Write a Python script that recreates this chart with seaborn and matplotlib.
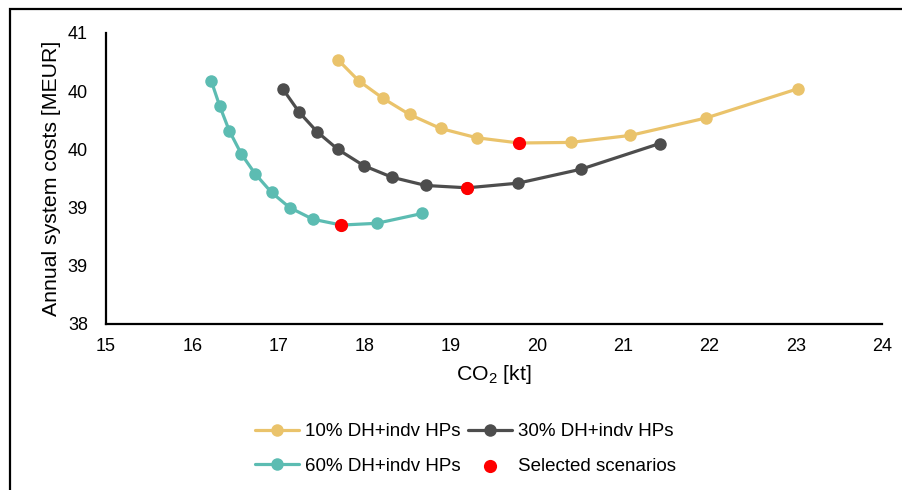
import numpy as np
import pandas as pd
import matplotlib
matplotlib.use('Agg')
import matplotlib.pyplot as plt
import seaborn as sns
from matplotlib.patches import Rectangle

# CO2 [kt] and annual system costs [MEUR] for each district heating share
co2_10 = [17.69, 17.93, 18.21, 18.52, 18.88, 19.30, 19.79, 20.39, 21.08, 21.96, 23.02]
cost_10 = [40.27, 40.09, 39.94, 39.80, 39.68, 39.60, 39.555, 39.56, 39.62, 39.77, 40.02]

co2_30 = [17.05, 17.24, 17.45, 17.69, 17.99, 18.32, 18.71, 19.19, 19.78, 20.51, 21.42]
cost_30 = [40.02, 39.82, 39.65, 39.50, 39.36, 39.26, 39.19, 39.17, 39.21, 39.33, 39.55]

co2_60 = [16.22, 16.32, 16.43, 16.57, 16.73, 16.92, 17.13, 17.40, 17.73, 18.14, 18.67]
cost_60 = [40.09, 39.87, 39.66, 39.46, 39.29, 39.13, 39.00, 38.90, 38.85, 38.865, 38.95]

series_labels = ['10% DH+indv HPs', '30% DH+indv HPs', '60% DH+indv HPs']
series_colors = ['#EAC36B', '#4D4D4D', '#5CBCB2']

# selected scenarios (one per series)
sel_co2 = [19.79, 19.19, 17.73]
sel_cost = [39.555, 39.17, 38.85]

xticks = [15, 16, 17, 18, 19, 20, 21, 22, 23, 24]
yticks = [38, 38.5, 39, 39.5, 40, 40.5]
ytick_labels = ['38', '39', '39', '40', '40', '41']

sns.set_style('white')
plt.rcParams['font.family'] = ['Liberation Sans', 'DejaVu Sans']
plt.rcParams['mathtext.fontset'] = 'custom'
plt.rcParams['mathtext.rm'] = 'Liberation Sans'
plt.rcParams['mathtext.it'] = 'Liberation Sans'
plt.rcParams['text.color'] = 'black'

fig = plt.figure(figsize=(9.03, 4.9), dpi=100)
ax = fig.add_axes([106 / 903, 1 - 324 / 490, 776 / 903, 291 / 490])

all_x = [co2_10, co2_30, co2_60]
all_y = [cost_10, cost_30, cost_60]
for xs, ys, lab, col in zip(all_x, all_y, series_labels, series_colors):
    df = pd.DataFrame({'co2': xs, 'cost': ys})
    sns.lineplot(data=df, x='co2', y='cost', sort=False, color=col, marker='o',
                 markersize=9, markeredgewidth=0, linewidth=2.3, label=lab, ax=ax)

sel_df = pd.DataFrame({'co2': sel_co2, 'cost': sel_cost})
sns.scatterplot(data=sel_df, x='co2', y='cost', color='#FF0000', s=90,
                linewidth=0, zorder=5, label='Selected scenarios', ax=ax)

ax.set_xlim(15, 24)
ax.set_ylim(38, 40.5)
ax.set_xticks(xticks)
ax.set_yticks(yticks)
ax.set_yticklabels(ytick_labels)
ax.tick_params(axis='both', length=0, labelsize=13, colors='black')
ax.tick_params(axis='x', pad=10)
ax.tick_params(axis='y', pad=13)
ax.set_xlabel('CO$_2$ [kt]', fontsize=15.3, labelpad=6, color='black')
ax.set_ylabel('Annual system costs [MEUR]', fontsize=15.3, labelpad=5, color='black')

for s in ['top', 'right']:
    ax.spines[s].set_visible(False)
for s in ['left', 'bottom']:
    ax.spines[s].set_color('black')
    ax.spines[s].set_linewidth(1.6)

handles, labels = ax.get_legend_handles_labels()
ax.get_legend().remove()
order = [0, 2, 1, 3]
fig.legend([handles[i] for i in order], [labels[i] for i in order],
           loc='center', bbox_to_anchor=(0.5155, 1 - 449 / 490), ncol=2,
           frameon=False, fontsize=13.5, handlelength=2.35, handletextpad=0.32,
           columnspacing=0.43, labelspacing=0.94)

# outer chart frame (cut at right and bottom)
fig.patches.append(Rectangle((10 / 903, -0.1), 1.2, 1.1 - 9 / 490,
                             transform=fig.transFigure, fill=False,
                             edgecolor='black', linewidth=1.6))

fig.savefig('out.png', dpi=100)
